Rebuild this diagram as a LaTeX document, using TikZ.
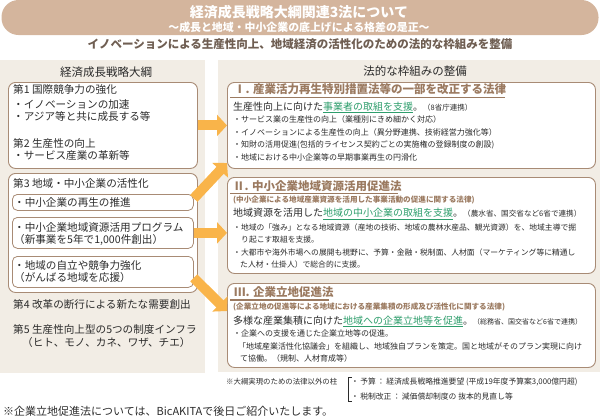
\documentclass[tikz,border=0pt]{standalone}
\usepackage{fontspec}
\setmainfont{Noto Sans CJK JP}
\usetikzlibrary{arrows.meta}
\definecolor{bannerc}{HTML}{D4B59D}
\definecolor{panelbg}{HTML}{F2EDE5}
\definecolor{boxline}{HTML}{A88B75}
\definecolor{headbrown}{HTML}{9B7A60}
\definecolor{lawgreen}{HTML}{2E9E6C}
\definecolor{arrowor}{HTML}{F9B44A}
\definecolor{bodytext}{HTML}{2B2B2B}
\definecolor{leadtext}{HTML}{6F5E52}
\newcommand{\myfs}[2]{\fontsize{#1}{#2}\selectfont}
\newcommand{\gul}[1]{\textcolor{lawgreen}{\underline{#1}}}
\tikzset{
  panel/.style={fill=panelbg, draw=none, inner sep=0pt, anchor=north west},
  rbox/.style={draw=boxline, line width=0.9pt, fill=white, rounded corners=7pt, inner sep=0pt, anchor=north west},
  ibox/.style={draw=boxline, line width=0.8pt, fill=white, rounded corners=5pt, inner sep=0pt, anchor=north west},
  ltxt/.style={anchor=west, inner sep=0pt, text=bodytext, font={\myfs{10.6}{12.5}}},
  ptitle/.style={inner sep=0pt, text=bodytext, font={\myfs{11.5}{13}}},
  lawhead/.style={anchor=west, inner sep=0pt, text=headbrown, font={\bfseries\myfs{11.5}{13}}},
  lawsub/.style={anchor=west, inner sep=0pt, text=headbrown, font={\bfseries\myfs{7.6}{9}}},
  lawmain/.style={anchor=west, inner sep=0pt, text=bodytext, font={\myfs{10}{12}}},
  bul/.style={anchor=west, inner sep=0pt, text=bodytext, font={\myfs{8}{9.5}}},
  bulw/.style={anchor=west, inner sep=0pt, text=bodytext, font={\myfs{7.8}{9.5}}},
  note/.style={anchor=west, inner sep=0pt, text=bodytext, font={\myfs{7.4}{9}}},
  notew/.style={anchor=west, inner sep=0pt, text=bodytext, font={\myfs{7.8}{9}}},
  hline/.style={draw=headbrown, line width=1.1pt},
  bigarrow/.style={draw=arrowor, line width=10pt, -{Triangle[width=21pt,length=10pt]}}
}
\begin{document}
\begin{tikzpicture}[x=1pt,y=-1pt]
\useasboundingbox (0,0) rectangle (600,418);
% banner
\node[fill=bannerc, rounded corners=17pt, minimum width=597pt, minimum height=35pt, inner sep=0pt] (banner) at (300,17.5) {};
\node[inner sep=0pt, text=white, font={\bfseries\myfs{14}{16}}] (title) at (299,12) {経済成長戦略大綱関連3法について};
\node[inner sep=0pt, text=white, font={\bfseries\myfs{10.9}{12}}] (subtitle) at (299,27.5) {～成長と地域・中小企業の底上げによる格差の是正～};
\node[inner sep=0pt, text=leadtext, font={\bfseries\myfs{11.5}{13}}] (lead) at (300,44.5) {イノベーションによる生産性向上、地域経済の活性化のための法的な枠組みを整備};
% panels
\node[panel, minimum width=205pt, minimum height=313pt] (lpanel) at (0,60) {};
\node[panel, minimum width=382pt, minimum height=312pt] (rpanel) at (218,60) {};
\node[ptitle] (ltitle) at (106,72) {経済成長戦略大綱};
\node[ptitle] (rtitle) at (415,71.5) {法的な枠組みの整備};
% left boxes
\node[rbox, minimum width=189pt, minimum height=86pt] (boxA) at (8,82) {};
\node[rbox, minimum width=189pt, minimum height=119pt] (boxB) at (8,173) {};
\node[ibox, minimum width=181pt, minimum height=16pt] (in1) at (12,194) {};
\node[ibox, minimum width=181pt, minimum height=31pt] (in2) at (12,217) {};
\node[ibox, minimum width=181pt, minimum height=31pt] (in3) at (12,256) {};
\node[ltxt] (t1) at (13,89.5) {第1 国際競争力の強化};
\node[ltxt] (t1a) at (13,104) {・イノベーションの加速};
\node[ltxt] (t1b) at (13,116.5) {・アジア等と共に成長する等};
\node[ltxt] (t2) at (13,143) {第2 生産性の向上};
\node[ltxt] (t2a) at (13,155.5) {・サービス産業の革新等};
\node[ltxt] (t3) at (13,183) {第3 地域・中小企業の活性化};
\node[ltxt] (t3a) at (14,202) {・中小企業の再生の推進};
\node[ltxt] (t3b) at (14,227) {・中小企業地域資源活用プログラム};
\node[ltxt] (t3c) at (14,239.5) {（新事業を5年で1,000件創出）};
\node[ltxt] (t3d) at (14,265) {・地域の自立や競争力強化};
\node[ltxt] (t3e) at (14,277.5) {（がんばる地域を応援）};
\node[ltxt] (t4) at (13,304) {第4 改革の断行による新たな需要創出};
\node[ltxt] (t5) at (13,329) {第5 生産性向上型の5つの制度インフラ};
\node[ltxt] (t5a) at (22,342) {（ヒト、モノ、カネ、ワザ、チエ）};
% right boxes
\node[rbox, minimum width=368pt, minimum height=86pt] (boxI) at (227,82) {};
\node[rbox, minimum width=368pt, minimum height=96pt] (boxII) at (227,177) {};
\node[rbox, minimum width=368pt, minimum height=84pt] (boxIII) at (227,283) {};
% law I
\node[lawhead] (hI) at (234,89.5) {Ⅰ. 産業活力再生特別措置法等の一部を改正する法律};
\draw[hline] (230,97.5) -- (505,97.5);
\node[lawmain] (mI) at (233,107.5) {生産性向上に向けた\gul{事業者の取組を支援}。{\myfs{7.5}{9}（8省庁連携）}};
\node[bul] (bI1) at (233,119.5) {・サービス業の生産性の向上（業種別にきめ細かく対応）};
\node[bul] (bI2) at (233,132.5) {・イノベーションによる生産性の向上（異分野連携、技術経営力強化等）};
\node[bul] (bI3) at (233,145) {・知財の活用促進(包括的ライセンス契約ごとの実施権の登録制度の創設)};
\node[bul] (bI4) at (233,157.5) {・地域における中小企業等の早期事業再生の円滑化};
% law II
\node[lawhead] (hII) at (233,186) {Ⅱ. 中小企業地域資源活用促進法};
\draw[hline] (230,193.5) -- (398,193.5);
\node[lawsub] (sII) at (233,200.5) {(中小企業による地域産業資源を活用した事業活動の促進に関する法律)};
\node[lawmain] (mII) at (233,214) {地域資源を活用した\gul{地域の中小企業の取組を支援}。{\myfs{7.6}{9}（農水省、国交省など6省で連携）}};
\node[bulw] (bII1) at (233,227.5) {・地域の「強み」となる地域資源（産地の技術、地域の農林水産品、観光資源）を、地域主導で掘};
\node[bulw] (bII1b) at (241,240) {り起こす取組を支援。};
\node[bulw] (bII2) at (233,252.5) {・大都市や海外市場への展開も視野に、予算・金融・税制面、人材面（マーケティング等に精通し};
\node[bulw] (bII2b) at (240,265) {た人材・仕掛人）で総合的に支援。};
% law III
\node[lawhead] (hIII) at (234,292.5) {Ⅲ. 企業立地促進法};
\draw[hline] (230,300) -- (329,300);
\node[lawsub] (sIII) at (233,306.5) {(企業立地の促進等による地域における産業集積の形成及び活性化に関する法律)};
\node[lawmain] (mIII) at (233,321.5) {多様な産業集積に向けた\gul{地域への企業立地等を促進}。{\myfs{7}{9}（総務省、国交省など6省で連携）}};
\node[bul] (bIII1) at (233,333.5) {・企業への支援を通じた企業立地等の促進。};
\node[bul] (bIII1b) at (238,346) {「地域産業活性化協議会」を組織し、地域独自プランを策定。国と地域がそのプラン実現に向け};
\node[bul] (bIII1c) at (240,358) {て協働。（規制、人材育成等）};
% notes
\node[note] (n0) at (226,382) {※大綱実現のための法律以外の柱};
\draw[draw=bodytext, line width=0.7pt] (352,377) -- (348,377) -- (348,401) -- (352,401);
\node[notew] (n1) at (351,382) {・\,予算\,：\,経済成長戦略推進要望\ (平成19年度予算案3,000億円超)};
\node[notew] (n2) at (351,397) {・\,税制改正\,：\,減価償却制度の\ 抜本的見直し等};
\node[ltxt, font={\myfs{11}{13}}] (foot) at (3,411) {※企業立地促進法については、BicAKITAで後日ご紹介いたします。};
% arrows
\coordinate (a2e) at (227,163);
\coordinate (a4e) at (227,311);
\draw[bigarrow] (boxA.east) -- (boxA.east -| boxI.west);
\draw[bigarrow] ([yshift=4pt]in1.east) -- (a2e);
\draw[bigarrow] (in2.east) -- (in2.east -| boxII.west);
\draw[bigarrow] ([yshift=-6pt]in3.east) -- (a4e);
\end{tikzpicture}
\end{document}
